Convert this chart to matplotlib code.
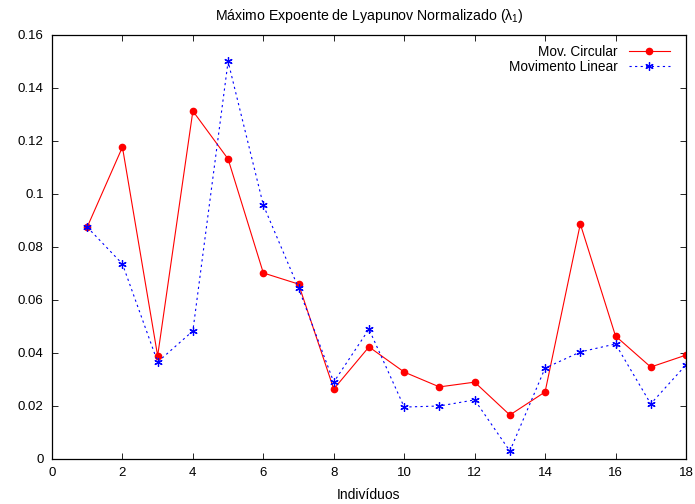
import matplotlib.pyplot as plt

# dados
individuos = list(range(1, 19))
mov_circular = [0.0875, 0.1177, 0.0389, 0.1313, 0.1132, 0.0702, 0.0660, 0.0264, 0.0423,
                0.0328, 0.0272, 0.0290, 0.0166, 0.0253, 0.0887, 0.0464, 0.0347, 0.0392]
mov_linear = [0.0875, 0.0736, 0.0366, 0.0483, 0.1500, 0.0958, 0.0645, 0.0290, 0.0490,
              0.0196, 0.0200, 0.0223, 0.0030, 0.0343, 0.0404, 0.0434, 0.0208, 0.0355]
xticks = [0, 2, 4, 6, 8, 10, 12, 14, 16, 18]
yticks = [0, 0.02, 0.04, 0.06, 0.08, 0.1, 0.12, 0.14, 0.16]
ytick_labels = ['0', '0.02', '0.04', '0.06', '0.08', '0.1', '0.12', '0.14', '0.16']

plt.rcParams['font.family'] = ['Liberation Sans', 'DejaVu Sans']
plt.rcParams['mathtext.fontset'] = 'custom'
plt.rcParams['mathtext.rm'] = 'Liberation Sans'
plt.rcParams['mathtext.it'] = 'Liberation Sans'

fig = plt.figure(figsize=(6.95, 5.04), dpi=100)
ax = fig.add_axes([0.0748, 0.0893, 0.9122, 0.8413])

ax.plot(individuos, mov_circular, color='#ff0000', lw=0.8, marker='o', ms=4.5,
        label='Mov. Circular')
ax.plot(individuos, mov_linear, color='#0000ff', lw=0.8, ls=(0, (2, 3)),
        marker=(6, 2, 0), ms=6, mew=0.9, label='Movimento Linear')

ax.set_xlim(0, 18)
ax.set_ylim(0, 0.16)
ax.set_xticks(xticks)
ax.set_yticks(yticks)
ax.set_yticklabels(ytick_labels)
ax.tick_params(direction='in', length=4.5, width=0.6, top=True, right=True,
               labelsize=9.5, pad=6)
for s in ax.spines.values():
    s.set_linewidth(0.9)

ax.set_title('Máximo Expoente de Lyapunov Normalizado ($\\lambda_1$)', fontsize=10.2, pad=11)
ax.set_xlabel('Indivíduos', fontsize=10, labelpad=6)

ax.legend(loc='upper right', bbox_to_anchor=(0.987, 0.996), frameon=False,
          markerfirst=False, fontsize=9.8, handlelength=3.0, borderaxespad=0.2,
          labelspacing=0.05, alignment='right')

fig.savefig('out.png', dpi=100)
